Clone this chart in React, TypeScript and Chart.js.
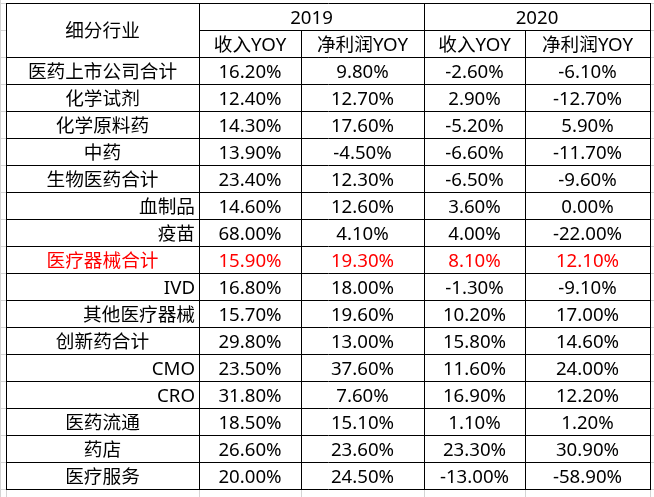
import React, { useEffect, useRef } from "react";
import { Chart, registerables } from "chart.js";

Chart.register(...registerables);

const headerLabel = "细分行业";
const years = ["2019", "2020"];
const metrics = ["收入YOY", "净利润YOY"];
const categories = [
  "医药上市公司合计", "化学试剂", "化学原料药", "中药", "生物医药合计", "血制品", "疫苗",
  "医疗器械合计", "IVD", "其他医疗器械", "创新药合计", "CMO", "CRO", "医药流通", "药店", "医疗服务",
];
const rightAligned = ["血制品", "疫苗", "IVD", "其他医疗器械", "CMO", "CRO"];
const highlighted = ["医疗器械合计"];
const revenue2019 = [16.2, 12.4, 14.3, 13.9, 23.4, 14.6, 68.0, 15.9, 16.8, 15.7, 29.8, 23.5, 31.8, 18.5, 26.6, 20.0];
const profit2019 = [9.8, 12.7, 17.6, -4.5, 12.3, 12.6, 4.1, 19.3, 18.0, 19.6, 13.0, 37.6, 7.6, 15.1, 23.6, 24.5];
const revenue2020 = [-2.6, 2.9, -5.2, -6.6, -6.5, 3.6, 4.0, 8.1, -1.3, 10.2, 15.8, 11.6, 16.9, 1.1, 23.3, -13.0];
const profit2020 = [-6.1, -12.7, 5.9, -11.7, -9.6, 0.0, -22.0, 12.1, -9.1, 17.0, 14.6, 24.0, 12.2, 1.2, 30.9, -58.9];

// layout (column edges in x-scale units, rows in y-scale units)
const colEdges = [0, 193, 295, 418, 519, 644];
const HEADER_ROWS = 2;
const FONT = '18.67px "Noto Sans", "Noto Sans CJK SC", sans-serif';

const fmt = (v: number) => v.toFixed(2) + "%";

export default function App() {
  const ref = useRef<HTMLCanvasElement | null>(null);

  useEffect(() => {
    if (!ref.current) return;
    const series = [revenue2019, profit2019, revenue2020, profit2020];
    const totalRows = HEADER_ROWS + categories.length;

    const tablePlugin = {
      id: "tablePlugin",
      afterDatasetsDraw(chart: any) {
        const ctx = chart.ctx;
        const xs = chart.scales.x;
        const ys = chart.scales.y;
        const X = (v: number) => Math.round(xs.getPixelForValue(v)) + 0.5;
        const Y = (v: number) => Math.round(ys.getPixelForValue(v)) + 0.5;
        const W = chart.width;
        const H = chart.height;
        ctx.save();
        // faint spreadsheet gridlines outside the table
        ctx.strokeStyle = "#d4d4d4";
        ctx.lineWidth = 1;
        ctx.beginPath();
        for (let r = 0; r <= totalRows; r++) {
          const y = Y(r);
          ctx.moveTo(0, y); ctx.lineTo(X(0), y);
          ctx.moveTo(X(colEdges[colEdges.length - 1]), y); ctx.lineTo(W, y);
        }
        ctx.moveTo(0.5, 0); ctx.lineTo(0.5, H);
        for (const e of colEdges) {
          ctx.moveTo(X(e), Y(totalRows)); ctx.lineTo(X(e), H);
        }
        ctx.stroke();

        // table borders
        ctx.strokeStyle = "#000000";
        ctx.beginPath();
        const L = X(0), R = X(colEdges[colEdges.length - 1]);
        for (let r = 0; r <= totalRows; r++) {
          if (r === 1) {
            ctx.moveTo(X(colEdges[1]), Y(r)); ctx.lineTo(R, Y(r));
          } else {
            ctx.moveTo(L - 0.5, Y(r)); ctx.lineTo(R + 0.5, Y(r));
          }
        }
        colEdges.forEach((e, i) => {
          const startRow = i === 2 || i === 4 ? 1 : 0;
          ctx.moveTo(X(e), Y(startRow)); ctx.lineTo(X(e), Y(totalRows));
        });
        ctx.stroke();

        // text
        ctx.font = FONT;
        ctx.textBaseline = "alphabetic";
        const off = 7;
        const midY = (a: number, b: number) => (ys.getPixelForValue(a) + ys.getPixelForValue(b)) / 2 + off;
        const midX = (a: number, b: number) => (xs.getPixelForValue(a) + xs.getPixelForValue(b)) / 2;
        ctx.fillStyle = "#000000";
        ctx.textAlign = "center";
        ctx.fillText(headerLabel, midX(colEdges[0], colEdges[1]), midY(0, 2));
        years.forEach((yr, i) => {
          ctx.fillText(yr, midX(colEdges[1 + i * 2], colEdges[3 + i * 2]), midY(0, 1));
          metrics.forEach((m, j) => {
            const c = 1 + i * 2 + j;
            ctx.fillText(m, midX(colEdges[c], colEdges[c + 1]), midY(1, 2));
          });
        });
        categories.forEach((cat, r) => {
          const row = HEADER_ROWS + r;
          const color = highlighted.includes(cat) ? "#ff0000" : "#000000";
          ctx.fillStyle = color;
          if (rightAligned.includes(cat)) {
            ctx.textAlign = "right";
            ctx.fillText(cat, xs.getPixelForValue(colEdges[1]) - 4, midY(row, row + 1));
          } else {
            ctx.textAlign = "center";
            ctx.fillText(cat, midX(colEdges[0], colEdges[1]), midY(row, row + 1));
          }
        });
        ctx.textAlign = "center";
        chart.data.datasets.forEach((ds: any, di: number) => {
          const meta = chart.getDatasetMeta(di);
          meta.data.forEach((pt: any, i: number) => {
            ctx.fillStyle = highlighted.includes(categories[i]) ? "#ff0000" : "#000000";
            ctx.fillText(fmt(series[di][i]), pt.x, pt.y + off);
          });
        });
        ctx.restore();
      },
    };

    const chart = new Chart(ref.current, {
      type: "scatter",
      data: {
        datasets: series.map((vals, c) => ({
          label: years[Math.floor(c / 2)] + " " + metrics[c % 2],
          data: vals.map((v, i) => ({
            x: (colEdges[c + 1] + colEdges[c + 2]) / 2,
            y: HEADER_ROWS + i + 0.5,
            v,
          })),
          pointRadius: 0,
          pointHoverRadius: 0,
        })),
      },
      options: {
        responsive: false,
        animation: false,
        events: [],
        layout: { padding: { left: 6, right: 4, top: 3, bottom: 8 } },
        plugins: { legend: { display: false }, tooltip: { enabled: false } },
        scales: {
          x: { type: "linear", min: 0, max: colEdges[colEdges.length - 1], display: false },
          y: { type: "linear", min: 0, max: HEADER_ROWS + categories.length, reverse: true, display: false },
        },
      },
      plugins: [tablePlugin],
    });
    return () => chart.destroy();
  }, []);

  return (
    <div style={{ position: "fixed", left: 0, top: 0, width: 654, height: 497, background: "#fff" }}>
      <canvas ref={ref} width={654} height={497} style={{ display: "block" }} />
    </div>
  );
}
